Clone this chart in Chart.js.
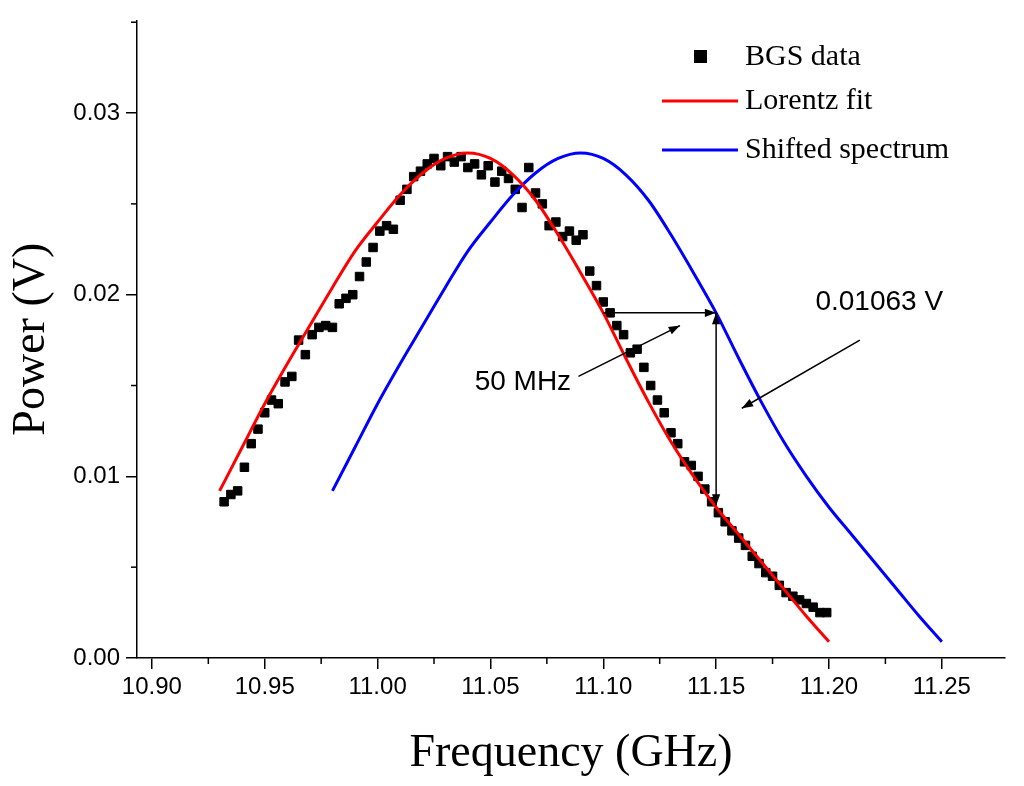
<!DOCTYPE html><html><head><meta charset="utf-8">
<script src="https://cdn.jsdelivr.net/npm/chart.js@4"></script>
<style>html,body{margin:0;background:#fff}#w{width:1024px;height:786px}</style></head><body>
<div id="w"><canvas id="c"></canvas></div>
<script>
const xTicks=[10.90,10.95,11.00,11.05,11.10,11.15,11.20,11.25];
const yTicks=[0,0.01,0.02,0.03];
const bgsX=[10.932,10.935,10.938,10.941,10.944,10.947,10.950,10.953,10.956,10.959,10.962,10.965,10.968,10.971,10.974,10.977,10.980,10.983,10.986,10.989,10.992,10.995,10.998,11.001,11.004,11.007,11.010,11.013,11.016,11.019,11.022,11.025,11.028,11.031,11.034,11.037,11.040,11.043,11.046,11.049,11.052,11.055,11.058,11.061,11.064,11.067,11.070,11.073,11.076,11.079,11.082,11.085,11.088,11.091,11.094,11.097,11.100,11.103,11.106,11.109,11.112,11.115,11.118,11.121,11.124,11.127,11.130,11.133,11.136,11.139,11.142,11.145,11.148,11.151,11.154,11.157,11.160,11.163,11.166,11.169,11.172,11.175,11.178,11.181,11.184,11.187,11.190,11.193,11.196,11.199];
const bgsY=[0.0086,0.0090,0.0092,0.0105,0.0118,0.0126,0.0135,0.0142,0.0140,0.0152,0.0155,0.0175,0.0167,0.0178,0.0182,0.0183,0.0182,0.0195,0.0198,0.0200,0.0210,0.0218,0.0226,0.0235,0.0238,0.0236,0.0252,0.0258,0.0265,0.0268,0.0272,0.0275,0.0271,0.0276,0.0273,0.0276,0.0270,0.0272,0.0266,0.0271,0.0262,0.0268,0.0264,0.0258,0.0248,0.0270,0.0256,0.0250,0.0238,0.0240,0.0232,0.0235,0.0230,0.0233,0.0213,0.0205,0.0196,0.0190,0.0183,0.0178,0.0168,0.0170,0.0160,0.0150,0.0142,0.0135,0.0124,0.0118,0.0108,0.0106,0.0100,0.0093,0.0086,0.0080,0.0075,0.0070,0.0066,0.0062,0.0056,0.0052,0.0047,0.0045,0.0040,0.0036,0.0034,0.0032,0.0030,0.0028,0.0025,0.0025];
const fitX=[10.93,10.94,10.95,10.96,10.97,10.98,10.99,11.00,11.01,11.02,11.03,11.04,11.05,11.06,11.07,11.08,11.09,11.10,11.11,11.12,11.13,11.14,11.15,11.16,11.17,11.18,11.19,11.20];
const fitY=[0.0092,0.0116,0.0140,0.0162,0.0183,0.0204,0.0224,0.0240,0.0255,0.0267,0.0275,0.0278,0.0275,0.0266,0.0252,0.0233,0.0212,0.0190,0.0165,0.0141,0.0119,0.0100,0.0083,0.0068,0.0053,0.0038,0.0023,0.0009];
const shiftX=[10.98,10.99,11.00,11.01,11.02,11.03,11.04,11.05,11.06,11.07,11.08,11.09,11.10,11.11,11.12,11.13,11.14,11.15,11.16,11.17,11.18,11.19,11.20,11.21,11.22,11.23,11.24,11.25];
const shiftY=fitY;
const serif='"Liberation Serif","Times New Roman",serif', sans='"Liberation Sans",Arial,sans-serif';
function pts(xs,ys){return xs.map((x,i)=>({x:x,y:ys[i]}));}
function arrowHead(ctx,x1,y1,x2,y2,s){const a=Math.atan2(y2-y1,x2-x1);ctx.beginPath();ctx.moveTo(x2,y2);ctx.lineTo(x2-s*Math.cos(a-0.35),y2-s*Math.sin(a-0.35));ctx.lineTo(x2-s*Math.cos(a+0.35),y2-s*Math.sin(a+0.35));ctx.closePath();ctx.fill();}
function line(ctx,x1,y1,x2,y2){ctx.beginPath();ctx.moveTo(x1,y1);ctx.lineTo(x2,y2);ctx.stroke();}
const deco={id:'deco',afterDraw(ch){const ctx=ch.ctx,X=ch.scales.x,Y=ch.scales.y,a=ch.chartArea;ctx.save();
ctx.strokeStyle='#000';ctx.fillStyle='#000';ctx.lineWidth=1.5;
for(let i=0;i<xTicks.length-1;i++){const px=X.getPixelForValue(xTicks[i]+0.025);line(ctx,px,a.bottom,px,a.bottom+6);}
for(let i=0;i<yTicks.length;i++){const py=Y.getPixelForValue(yTicks[i]+0.005);if(py>a.top)line(ctx,a.left,py,a.left-6,py);}
const P=(x,y)=>[X.getPixelForValue(x),Y.getPixelForValue(y)];
let [h1x,h1y]=P(11.10,0.0190),[h2x,h2y]=P(11.15,0.0190);
line(ctx,h1x,h1y,h2x,h2y);arrowHead(ctx,h2x,h2y,h1x,h1y,12);arrowHead(ctx,h1x,h1y,h2x,h2y,12);
let [v1x,v1y]=P(11.15,0.0190),[v2x,v2y]=P(11.15,0.0084);
line(ctx,v1x,v1y,v2x,v2y);arrowHead(ctx,v2x,v2y,v1x,v1y,12);arrowHead(ctx,v1x,v1y,v2x,v2y,12);
let [p1x,p1y]=P(11.089,0.0155),[p2x,p2y]=P(11.134,0.0183);
line(ctx,p1x,p1y,p2x,p2y);arrowHead(ctx,p1x,p1y,p2x,p2y,12);
let [q1x,q1y]=P(11.2137,0.0175),[q2x,q2y]=P(11.1614,0.01375);
line(ctx,q1x,q1y,q2x,q2y);arrowHead(ctx,q1x,q1y,q2x,q2y,12);
ctx.font='28px '+sans;ctx.textBaseline='middle';ctx.textAlign='left';
let [t1x,t1y]=P(11.043,0.0152);ctx.fillText('50 MHz',t1x,t1y);
let [t2x,t2y]=P(11.194,0.0196);ctx.fillText('0.01063 V',t2x,t2y);
ctx.font='30px '+serif;
ctx.fillRect(694,50,13,13);ctx.fillText('BGS data',745,57);
ctx.lineWidth=3;ctx.strokeStyle='#ff0000';line(ctx,662,101,738,101);ctx.fillText('Lorentz fit',745,101);
ctx.strokeStyle='#0000ff';line(ctx,662,150,738,150);ctx.fillText('Shifted spectrum',745,150);
ctx.restore();}};
new Chart(document.getElementById('c'),{type:'scatter',
data:{datasets:[
{data:pts(bgsX,bgsY),pointStyle:'rect',pointRadius:6,backgroundColor:'#000',borderColor:'#000',showLine:false,order:2},
{data:pts(fitX,fitY),showLine:true,borderColor:'#ff0000',borderWidth:3,pointRadius:0,cubicInterpolationMode:'monotone',order:1},
{data:pts(shiftX,shiftY),showLine:true,borderColor:'#0000ff',borderWidth:3,pointRadius:0,cubicInterpolationMode:'monotone',order:1}]},
options:{responsive:true,maintainAspectRatio:false,animation:false,
layout:{padding:{top:12,right:19,left:0,bottom:0}},
plugins:{legend:{display:false},tooltip:{enabled:false}},
scales:{
x:{type:'linear',min:10.8934,max:11.278,grid:{drawOnChartArea:false,tickLength:11,color:'#000',lineWidth:1.5},border:{color:'#000',width:1.5},
afterBuildTicks:s=>{s.ticks=xTicks.map(v=>({value:v}));},
afterFit:s=>{s.height=128;},
ticks:{color:'#000',font:{family:sans,size:24},padding:4,maxRotation:0,callback:v=>v.toFixed(2)},
title:{display:true,text:'Frequency (GHz)',color:'#000',font:{family:serif,size:46},padding:{top:6}}},
y:{type:'linear',min:0,max:0.0351,grid:{drawOnChartArea:false,tickLength:11,color:'#000',lineWidth:1.5},border:{color:'#000',width:1.5},
afterBuildTicks:s=>{s.ticks=yTicks.map(v=>({value:v}));},
afterFit:s=>{s.width=137;},
ticks:{color:'#000',font:{family:sans,size:24},padding:6,callback:v=>v.toFixed(2)},
title:{display:true,text:'Power (V)',color:'#000',font:{family:serif,size:46},padding:{bottom:4}}}}},
plugins:[deco]});
</script></body></html>
